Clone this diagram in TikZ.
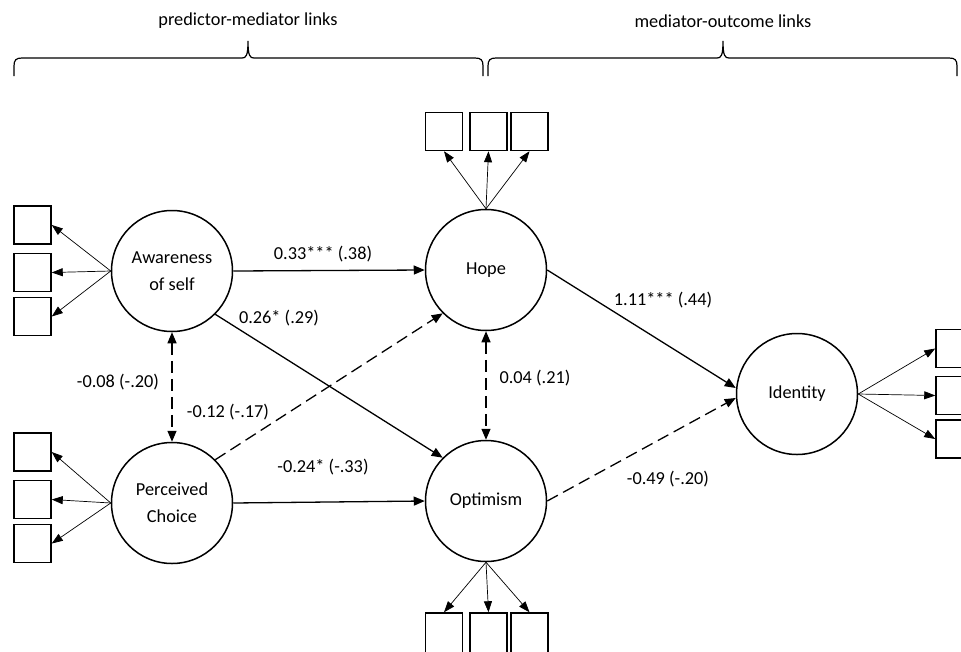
\documentclass[tikz,border=0pt]{standalone}
\usepackage{fontspec}
\setmainfont{Carlito}
\usetikzlibrary{arrows.meta}
\begin{document}
\begin{tikzpicture}[x=1pt,y=-1pt,
  font=\fontsize{18.3}{27}\selectfont,
  latent/.style={circle,draw,line width=1.5pt,minimum size=121pt,inner sep=0pt,align=center},
  ind/.style={rectangle,draw,line width=1.5pt,minimum width=37pt,minimum height=38pt,inner sep=0pt},
  load/.style={-{Triangle[length=11pt,width=8pt]},line width=0.7pt},
  reg/.style={-{Triangle[length=11pt,width=9pt]},line width=1.3pt},
  dreg/.style={reg,dash pattern=on 12pt off 6pt},
  cov/.style={{Triangle[length=11pt,width=9pt]}-{Triangle[length=11pt,width=9pt]},line width=1.3pt,dash pattern=on 12pt off 6pt},
  lbl/.style={inner sep=0pt},
  bracepath/.style={line width=1.2pt}
]
\useasboundingbox (0,0) rectangle (961,651);

% braces
\draw[bracepath] (14,76) -- (14,66) .. controls (14,60) and (16,58) .. (22,58) -- (242,58)
  .. controls (246,58) and (248,56) .. (248,41) .. controls (248,56) and (250,58) .. (254,58)
  -- (475,58) .. controls (481,58) and (483,60) .. (483,66) -- (483,76);
\draw[bracepath] (488,76) -- (488,66) .. controls (488,60) and (490,58) .. (496,58) -- (717,58)
  .. controls (721,58) and (723,56) .. (723,41) .. controls (723,56) and (725,58) .. (729,58)
  -- (949,58) .. controls (955,58) and (957,60) .. (957,66) -- (957,76);
\node[lbl] (t1) at (248,21) {predictor-mediator links};
\node[lbl] (t2) at (723,21) {mediator-outcome links};

% latent variables
\node[latent] (aw) at (172,271) {Awareness\\of self};
\node[latent] (pc) at (172,503) {Perceived\\Choice};
\node[latent] (ho) at (486,270) {Hope};
\node[latent] (op) at (486,501) {Optimism};
\node[latent] (id) at (797,394) {Identity};

% indicators
\node[ind] (a1) at (32.5,225) {};
\node[ind] (a2) at (32.5,272.5) {};
\node[ind] (a3) at (32.5,316.5) {};
\node[ind] (p1) at (32.5,452) {};
\node[ind] (p2) at (32.5,499.5) {};
\node[ind] (p3) at (32.5,543.5) {};
\node[ind] (h1) at (444,131.5) {};
\node[ind] (h2) at (488.5,131.5) {};
\node[ind] (h3) at (529.5,131.5) {};
\node[ind,minimum height=46pt] (o1) at (444,636) {};
\node[ind,minimum height=46pt] (o2) at (488.5,636) {};
\node[ind,minimum height=46pt] (o3) at (529.5,636) {};
\node[ind] (i1) at (954.5,348.5) {};
\node[ind] (i2) at (954.5,395.5) {};
\node[ind] (i3) at (954.5,439) {};

% loadings
\foreach \b in {a1,a2,a3} \draw[load] (aw.west) -- (\b.east);
\foreach \b in {p1,p2,p3} \draw[load] (pc.west) -- (\b.east);
\foreach \b in {h1,h2,h3} \draw[load] (ho.north) -- (\b.south);
\foreach \b in {o1,o2,o3} \draw[load] (op.south) -- (\b.north);
\foreach \b in {i1,i2,i3} \draw[load] (id.east) -- (\b.west);

% structural paths
\draw[reg] (aw.east) -- (ho.west);
\draw[reg] (aw.-45) -- (op.135);
\draw[dreg] (pc.45) -- (ho.-135);
\draw[reg] (pc.east) -- (op.west);
\draw[cov] (aw.south) -- (pc.north);
\draw[cov] (ho.south) -- (op.north);
\coordinate (idin1) at ([yshift=6pt]id.west);
\coordinate (idin2) at ([yshift=-4pt]id.west);
\draw[reg] (ho.east) -- (idin1);
\draw[dreg] (op.east) -- (idin2);

% labels
\node[lbl] (l1) at (323,254) {0.33*** (.38)};
\node[lbl] (l2) at (279,318) {0.26* (.29)};
\node[lbl] (l3) at (118,382) {-0.08 (-.20)};
\node[lbl] (l4) at (228,412) {-0.12 (-.17)};
\node[lbl] (l5) at (535,378) {0.04 (.21)};
\node[lbl] (l6) at (663,300) {1.11*** (.44)};
\node[lbl] (l7) at (323,467) {-0.24* (-.33)};
\node[lbl] (l8) at (668,479) {-0.49 (-.20)};
\end{tikzpicture}
\end{document}
